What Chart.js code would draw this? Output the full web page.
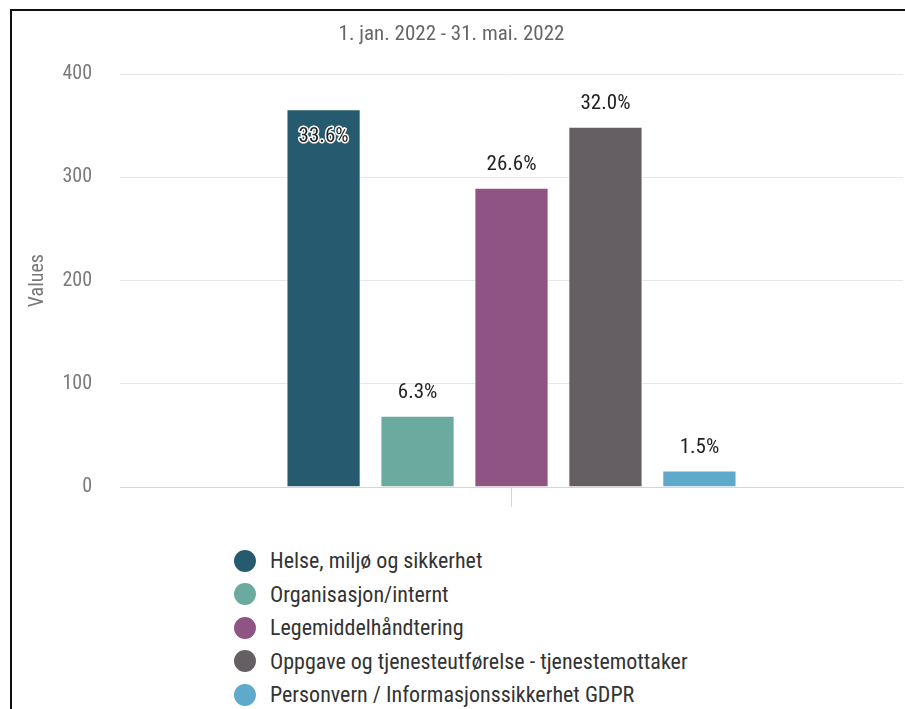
<!DOCTYPE html>
<html>
<head>
<meta charset="utf-8">
<script src="https://cdn.jsdelivr.net/npm/chart.js@4/dist/chart.umd.min.js"></script>
<style>
  html, body { margin: 0; padding: 0; background: #fff; overflow: hidden; }
  #wrap { position: absolute; left: 0; top: 0; width: 905px; height: 709px; }
  #c { position: absolute; left: 0; top: 0; }
  #frame { position: absolute; left: 10px; top: 9px; width: 920px; height: 720px;
           border-left: 2px solid #111; border-top: 2px solid #111; pointer-events: none; }
  #legend { position: absolute; left: 234px; top: 544px; font-family: "Roboto Condensed", "DejaVu Sans Condensed", sans-serif;
            font-size: 22px; color: #333; }
  .item { height: 33.5px; display: flex; align-items: center; white-space: nowrap; }
  .dot { width: 22px; height: 22px; border-radius: 50%; margin-right: 14px; flex: none; }
</style>
</head>
<body>
<div id="wrap">
  <canvas id="c" width="905" height="527"></canvas>
  <div id="legend"></div>
  <div id="frame"></div>
</div>
<script>
const titleText = "1. jan. 2022 - 31. mai. 2022";
const categories = [""];
const seriesNames = [
  "Helse, miljø og sikkerhet",
  "Organisasjon/internt",
  "Legemiddelhåndtering",
  "Oppgave og tjenesteutførelse - tjenestemottaker",
  "Personvern / Informasjonssikkerhet GDPR"
];
const seriesValues = [366, 69, 290, 349, 16];
const seriesColors = ["#265a6e", "#6bab9f", "#8f5484", "#655f64", "#5fa9ca"];
const yTicks = [0, 100, 200, 300, 400];

const FONT = "'Roboto Condensed', 'DejaVu Sans Condensed', sans-serif";
const total = seriesValues.reduce((a, b) => a + b, 0);

const labelPlugin = {
  id: 'pctLabels',
  afterDatasetsDraw(chart) {
    const ctx = chart.ctx;
    const area = chart.chartArea;
    ctx.save();
    ctx.font = "21px " + FONT;
    ctx.textAlign = 'center';
    ctx.textBaseline = 'middle';
    chart.data.datasets.forEach((ds, i) => {
      const meta = chart.getDatasetMeta(i);
      meta.data.forEach((bar, j) => {
        const v = ds.data[j];
        const txt = (v / total * 100).toFixed(1) + '%';
        let y = bar.y - 23;
        let inside = false;
        if (y - 14 < area.top) { y = bar.y + 27; inside = true; }
        if (inside) {
          ctx.lineJoin = 'round';
          ctx.lineWidth = 3;
          ctx.strokeStyle = '#fff';
          ctx.strokeText(txt, bar.x, y);
        }
        ctx.fillStyle = '#222';
        ctx.fillText(txt, bar.x, y);
      });
    });
    ctx.restore();
  }
};

const chart = new Chart(document.getElementById('c'), {
  type: 'bar',
  data: {
    labels: categories,
    datasets: seriesNames.map((n, i) => ({
      label: n,
      data: [seriesValues[i]],
      backgroundColor: seriesColors[i],
      borderColor: '#ffffff',
      borderWidth: 1,
      categoryPercentage: 0.6,
      barPercentage: 0.79
    }))
  },
  options: {
    responsive: false,
    animation: false,
    layout: { padding: { left: 0, right: 2, top: 0, bottom: 0 } },
    plugins: {
      legend: { display: false },
      tooltip: { enabled: false },
      title: {
        display: true,
        text: titleText,
        color: '#666',
        font: { family: FONT, size: 21, weight: 'normal' },
        padding: { top: 22, bottom: 27 }
      }
    },
    scales: {
      x: {
        grid: { drawOnChartArea: false, drawTicks: true, tickLength: 20, color: '#ccd6eb', offset: false },
        border: { display: true, color: '#ccd6eb' },
        ticks: { display: false },
        afterFit(s) { s.height = 26; }
      },
      y: {
        min: 0, max: 400,
        afterBuildTicks(s) { s.ticks = yTicks.map(v => ({ value: v })); },
        grid: { drawTicks: false, color: c => (c.tick && c.tick.value === 0) ? '#ccd6eb' : '#e6e6e6' },
        border: { display: false },
        ticks: { color: '#7a7a7a', font: { family: FONT, size: 20 }, padding: 28 },
        title: { display: true, text: 'Values', color: '#777', font: { family: FONT, size: 20 }, padding: { top: 26, bottom: 0 } },
        afterFit(s) { s.width = 120; }
      }
    }
  },
  plugins: [labelPlugin]
});

const legend = document.getElementById('legend');
chart.data.datasets.forEach(ds => {
  const row = document.createElement('div');
  row.className = 'item';
  const dot = document.createElement('span');
  dot.className = 'dot';
  dot.style.background = ds.backgroundColor;
  const t = document.createElement('span');
  t.textContent = ds.label;
  row.appendChild(dot); row.appendChild(t);
  legend.appendChild(row);
});
</script>
</body>
</html>
